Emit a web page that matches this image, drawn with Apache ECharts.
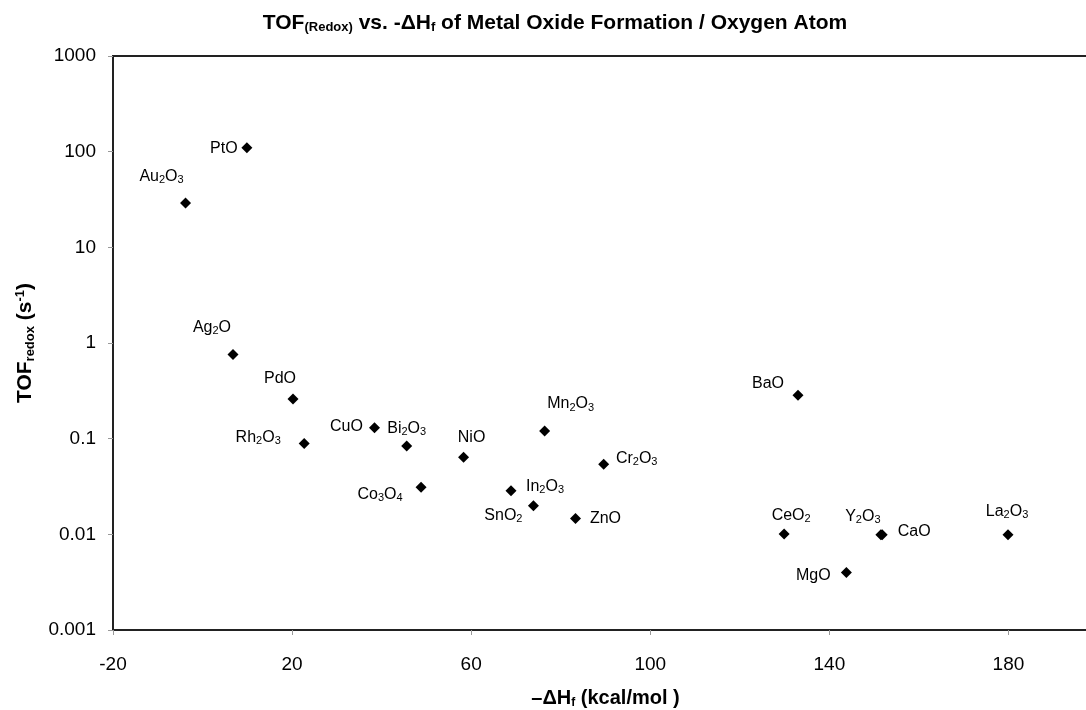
<!DOCTYPE html>
<html>
<head>
<meta charset="utf-8">
<script src="https://cdn.jsdelivr.net/npm/echarts@6/dist/echarts.min.js"></script>
<style>
    html, body { margin: 0; padding: 0; background: #fff; }
    #chart { width: 1086px; height: 710px; }
</style>
</head>
<body>
<div id="chart"></div>
<script>
    // oxides, -dHf (kcal/mol per O atom), TOF redox (1/s)
    var oxides = ['PtO', 'Au2O3', 'Ag2O', 'PdO', 'Rh2O3', 'CuO', 'Bi2O3', 'NiO', 'Co3O4', 'Mn2O3',
        'Cr2O3', 'In2O3', 'SnO2', 'ZnO', 'BaO', 'CeO2', 'MgO', 'Y2O3', 'CaO', 'La2O3'];
    var dHf = [9.9, -3.8, 6.8, 20.2, 22.7, 38.4, 45.6, 58.3, 48.8, 76.4,
        89.6, 68.9, 73.9, 83.3, 133.0, 129.9, 143.8, 151.5, 151.8, 179.9];
    var tof = [110, 29, 0.76, 0.26, 0.089, 0.13, 0.084, 0.064, 0.031, 0.12,
        0.054, 0.0285, 0.0199, 0.0146, 0.284, 0.0101, 0.0040, 0.0099, 0.0099, 0.0099];
    var yTicks = [0.001, 0.01, 0.1, 1, 10, 100, 1000];
    var xTicks = [-20, 20, 60, 100, 140, 180];

    // where each label sits relative to its marker
    var labelOffset = {
        'PtO': [-23, 1], 'Au2O3': [-24, -27], 'Ag2O': [-21, -27], 'PdO': [-13, -20],
        'Rh2O3': [-46, -6], 'CuO': [-28, -1], 'Bi2O3': [0, -17], 'NiO': [8, -20],
        'Co3O4': [-41, 7], 'Mn2O3': [26, -27], 'Cr2O3': [33, -6], 'In2O3': [34, -4],
        'SnO2': [-30, 10], 'ZnO': [30, 0], 'BaO': [-30, -12], 'CeO2': [7, -18],
        'MgO': [-33, 3], 'Y2O3': [-18, -18], 'CaO': [32, -3], 'La2O3': [-1, -23]
    };

    var FONT = '"Liberation Sans", Arial, sans-serif';

    //把化学式里的数字变成下标
    function formula(name) {
        return name.replace(/(\d+)/g, '{s|$1}');
    }

    var points = oxides.map(function(name, i) {
        return {
            value: [dHf[i], tof[i]],
            name: name,
            label: {
                show: true,
                position: 'inside',
                offset: labelOffset[name],
                formatter: formula(name)
            }
        };
    });

    var chart = echarts.init(document.getElementById('chart'));
    chart.setOption({
        backgroundColor: '#fff',
        animation: false,
        title: {
            text: 'TOF{s|(Redox)} vs. -ΔH{s|f} of Metal Oxide Formation / Oxygen Atom',
            left: 550,
            top: 7,
            textAlign: 'center',
            textStyle: {
                fontFamily: FONT,
                fontSize: 21,
                fontWeight: 'bold',
                color: '#000',
                rich: {
                    s: { fontFamily: FONT, fontSize: 13, fontWeight: 'bold', color: '#000', padding: [9, 0, 0, 0] }
                }
            }
        },
        grid: {
            left: 113,
            top: 56,
            width: 985,
            height: 574,
            outerBoundsMode: 'none',
            containLabel: false,
            show: true,
            borderColor: '#222',
            borderWidth: 2
        },
        xAxis: {
            type: 'value',
            min: xTicks[0],
            max: 200,
            interval: 40,
            name: '–ΔH{s|f} (kcal/mol )',
            nameLocation: 'middle',
            nameGap: 58,
            nameTextStyle: {
                fontFamily: FONT,
                fontSize: 20,
                fontWeight: 'bold',
                color: '#000',
                rich: {
                    s: { fontFamily: FONT, fontSize: 12, fontWeight: 'bold', color: '#000', padding: [9, 0, 0, 0] }
                }
            },
            axisLine: { onZero: false, lineStyle: { color: '#222', width: 2 } },
            axisTick: { length: 5, lineStyle: { color: '#999' } },
            axisLabel: {
                fontFamily: FONT, fontSize: 19, color: '#000', margin: 25,
                showMaxLabel: false
            },
            splitLine: { show: false }
        },
        yAxis: {
            type: 'log',
            logBase: 10,
            min: yTicks[0],
            max: yTicks[yTicks.length - 1],
            name: 'TOF{s|redox} (s{p|-1})',
            nameLocation: 'middle',
            nameRotate: 90,
            nameGap: 76,
            nameTextStyle: {
                fontFamily: FONT,
                fontSize: 21,
                fontWeight: 'bold',
                color: '#000',
                rich: {
                    s: { fontFamily: FONT, fontSize: 13, fontWeight: 'bold', color: '#000', padding: [10, 0, 0, 0] },
                    p: { fontFamily: FONT, fontSize: 13, fontWeight: 'bold', color: '#000', padding: [0, 0, 10, 0] }
                }
            },
            axisLine: { show: true, onZero: false, lineStyle: { color: '#222', width: 2 } },
            axisTick: { show: true, length: 5, lineStyle: { color: '#999' } },
            axisLabel: {
                fontFamily: FONT, fontSize: 19, color: '#000', margin: 17,
                formatter: function(v) {
                    return String(Number(v.toPrecision(3)));
                }
            },
            splitLine: { show: false },
            minorTick: { show: false }
        },
        series: [{
            type: 'scatter',
            symbol: 'diamond',
            symbolSize: 11,
            itemStyle: { color: '#000', opacity: 1 },
            label: {
                fontFamily: FONT,
                fontSize: 16,
                color: '#000',
                opacity: 1,
                textBorderWidth: 0,
                rich: {
                    s: { fontFamily: FONT, fontSize: 11, color: '#000', textBorderWidth: 0, padding: [7, 0, 0, 0] }
                }
            },
            data: points
        }]
    });
</script>
</body>
</html>
